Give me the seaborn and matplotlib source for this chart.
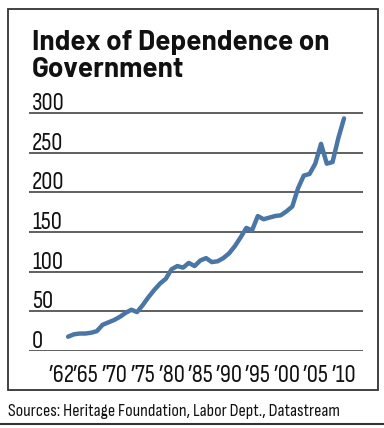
import seaborn as sns
import matplotlib.pyplot as plt
import matplotlib.patches as patches
import matplotlib.transforms as mtransforms
import pandas as pd

# valores
anos = list(range(1962, 2011))
indice = [18, 21, 22, 22, 23, 25, 33, 36, 39, 43,
          48, 52, 49, 58, 68, 77, 85, 91, 103, 107,
          105, 111, 107, 114, 117, 112, 113, 117, 123, 132,
          143, 155, 152, 170, 166, 168, 170, 171, 176, 182,
          205, 221, 223, 236, 261, 236, 238, 268, 293]
anos_rotulos = [1962, 1965, 1970, 1975, 1980, 1985, 1990, 1995, 2000, 2005, 2010]
textos_rotulos = ["\u201962", "\u201965", "\u201970", "\u201975", "\u201980", "\u201985",
                  "\u201990", "\u201995", "\u201900", "\u201905", "\u201910"]
valores_grade = [0, 50, 100, 150, 200, 250, 300]

titulo_1 = "Index of Dependence on"
titulo_2 = "Government"
fonte = "Sources: Heritage Foundation, Labor Dept., Datastream"

df = pd.DataFrame({"Ano": anos, "Indice": indice})

sns.set_style("white")
plt.rcParams["font.family"] = ["Sofia Sans Condensed", "DejaVu Sans"]
fonte_titulo = ["Barlow", "DejaVu Sans"]

fig = plt.figure(figsize=(3.84, 4.28), dpi=100)
ax = fig.add_axes([29 / 384, 77 / 428, 334 / 384, 258 / 428])

sns.lineplot(data=df, x="Ano", y="Indice", color="#4a76a6", linewidth=3.2,
             ax=ax, solid_capstyle="round")

ax.set_xlim(1955.2, 2013.3)
ax.set_ylim(0, 325)

for v in valores_grade:
    ax.axhline(v, color="#444444", linewidth=1.2, zorder=0)

trans = mtransforms.offset_copy(ax.get_yaxis_transform(), fig=fig, y=3, units="dots")
for v in valores_grade:
    ax.text(0.009, v, str(v), transform=trans, ha="left", va="baseline",
            fontsize=18, color="#111111")

ax.set_yticks([])
ax.set_xticks(anos_rotulos)
ax.set_xticklabels(textos_rotulos, fontsize=18, color="#111111")
ax.tick_params(axis="x", length=0, pad=9)
ax.set(xlabel="", ylabel="")
sns.despine(ax=ax, left=True, bottom=True)

# o rotulo '62 fica um pouco mais a esquerda no original
primeiro = ax.get_xticklabels()[0]
primeiro.set_transform(primeiro.get_transform() +
                       mtransforms.ScaledTranslation(-7 / 100, 0, fig.dpi_scale_trans))

fig.text(32 / 384, 1 - 50 / 428, titulo_1, fontsize=20,
         fontweight="bold", family=fonte_titulo, va="baseline", color="#111111")
fig.text(32 / 384, 1 - 77 / 428, titulo_2, fontsize=20,
         fontweight="bold", family=fonte_titulo, va="baseline", color="#111111")

fig.text(8 / 384, 1 - 416 / 428, fonte, fontsize=13, va="baseline", color="#111111")

fig.patches.append(patches.Rectangle((8 / 384, 38 / 428), 370 / 384, 381 / 428,
                                     transform=fig.transFigure, fill=False,
                                     edgecolor="#333333", linewidth=1.3))
fig.lines.append(plt.Line2D([0, 1], [4 / 428, 4 / 428], transform=fig.transFigure,
                            color="#333333", linewidth=1.5))

fig.savefig("out.png", dpi=100)
